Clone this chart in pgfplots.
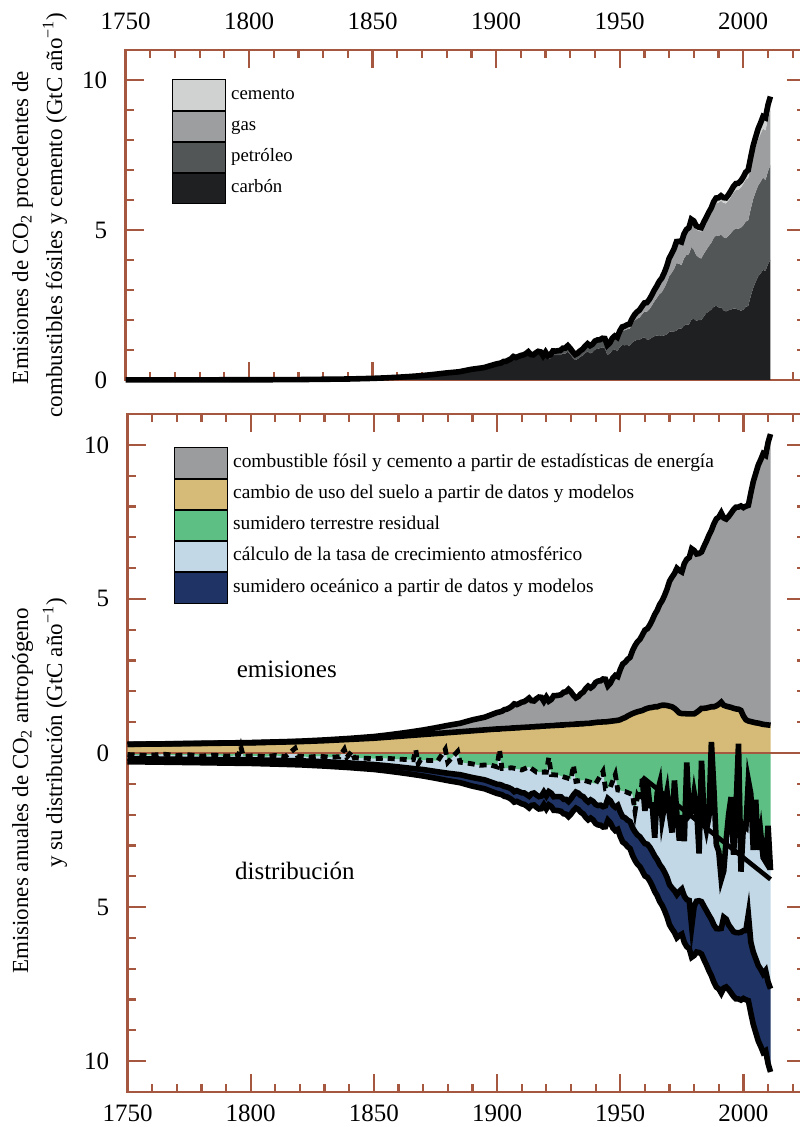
\documentclass[border=0pt]{standalone}
\usepackage{fontspec}
\setmainfont{Liberation Serif}
\usepackage{pgfplots}
\usepackage{pgfplotstable}
\pgfplotsset{compat=1.18}
\usepgfplotslibrary{fillbetween}

\definecolor{axbrown}{HTML}{A5583F}
\definecolor{cemc}{HTML}{D0D2D2}
\definecolor{gasc}{HTML}{9D9EA0}
\definecolor{oilc}{HTML}{535657}
\definecolor{coalc}{HTML}{1E2022}
\definecolor{ffc}{HTML}{9B9C9E}
\definecolor{lucc}{HTML}{D6BB78}
\definecolor{landc}{HTML}{5EBF85}
\definecolor{atmc}{HTML}{C2D8E6}
\definecolor{ocnc}{HTML}{1F3464}

% year, fossil total, oil, gas, cement, land-use change, ocean sink (GtC/yr)
\pgfplotstableread{
year ff oil gas cem luc ocn
1750 0.003 0 0 0 0.28 0.10
1760 0.003 0 0 0 0.29 0.10
1770 0.004 0 0 0 0.30 0.10
1780 0.005 0 0 0 0.31 0.11
1790 0.007 0 0 0 0.32 0.11
1800 0.008 0 0 0 0.33 0.12
1810 0.010 0 0 0 0.35 0.12
1820 0.014 0 0 0 0.37 0.13
1830 0.024 0 0 0 0.40 0.14
1840 0.033 0 0 0 0.44 0.15
1850 0.054 0 0 0 0.48 0.16
1855 0.070 0 0 0 0.51 0.17
1860 0.091 0 0 0 0.54 0.18
1865 0.116 0.001 0 0 0.57 0.19
1870 0.147 0.001 0 0 0.60 0.21
1875 0.188 0.002 0 0 0.63 0.22
1880 0.236 0.004 0.002 0 0.66 0.24
1885 0.274 0.005 0.003 0 0.69 0.26
1890 0.356 0.009 0.004 0.001 0.72 0.28
1895 0.412 0.013 0.004 0.001 0.75 0.29
1900 0.534 0.017 0.004 0.002 0.78 0.30
1901 0.552 0.019 0.004 0.002 0.78 0.31
1902 0.566 0.020 0.005 0.002 0.79 0.31
1903 0.617 0.021 0.005 0.002 0.79 0.32
1904 0.624 0.023 0.005 0.002 0.80 0.32
1905 0.663 0.025 0.006 0.003 0.80 0.33
1906 0.707 0.026 0.006 0.003 0.81 0.34
1907 0.784 0.030 0.007 0.003 0.81 0.34
1908 0.750 0.031 0.007 0.003 0.82 0.35
1909 0.785 0.033 0.008 0.003 0.82 0.35
1910 0.819 0.036 0.009 0.004 0.83 0.36
1911 0.836 0.038 0.009 0.004 0.83 0.37
1912 0.879 0.041 0.010 0.004 0.84 0.37
1913 0.943 0.045 0.010 0.004 0.84 0.38
1914 0.850 0.046 0.010 0.004 0.85 0.38
1915 0.838 0.050 0.011 0.004 0.85 0.39
1916 0.901 0.055 0.011 0.005 0.86 0.40
1917 0.955 0.060 0.012 0.005 0.86 0.40
1918 0.936 0.060 0.012 0.005 0.87 0.41
1919 0.806 0.065 0.013 0.005 0.87 0.41
1920 0.932 0.085 0.014 0.006 0.88 0.42
1921 0.803 0.085 0.015 0.006 0.88 0.43
1922 0.845 0.095 0.016 0.006 0.89 0.43
1923 0.970 0.110 0.018 0.007 0.89 0.44
1924 0.963 0.110 0.019 0.007 0.90 0.45
1925 0.975 0.120 0.020 0.008 0.90 0.46
1926 0.983 0.125 0.022 0.008 0.91 0.47
1927 1.062 0.140 0.024 0.009 0.91 0.47
1928 1.065 0.150 0.026 0.009 0.92 0.48
1929 1.145 0.165 0.030 0.010 0.92 0.49
1930 1.053 0.160 0.030 0.010 0.93 0.50
1931 0.940 0.155 0.029 0.009 0.93 0.51
1932 0.847 0.145 0.028 0.008 0.94 0.52
1933 0.893 0.155 0.029 0.009 0.94 0.53
1934 0.973 0.160 0.031 0.010 0.95 0.54
1935 1.027 0.170 0.035 0.011 0.95 0.56
1936 1.130 0.185 0.037 0.013 0.96 0.57
1937 1.209 0.200 0.040 0.014 0.96 0.58
1938 1.142 0.200 0.040 0.014 0.97 0.59
1939 1.192 0.210 0.043 0.014 0.98 0.60
1940 1.299 0.220 0.045 0.015 0.99 0.62
1941 1.334 0.235 0.047 0.015 1.00 0.63
1942 1.342 0.220 0.048 0.014 1.00 0.65
1943 1.391 0.235 0.052 0.013 1.01 0.66
1944 1.383 0.260 0.056 0.012 1.01 0.68
1945 1.160 0.255 0.060 0.010 1.02 0.70
1946 1.238 0.280 0.065 0.013 1.03 0.72
1947 1.392 0.315 0.072 0.016 1.04 0.74
1948 1.469 0.350 0.080 0.018 1.05 0.76
1949 1.419 0.360 0.088 0.018 1.06 0.78
1950 1.630 0.420 0.100 0.020 1.08 0.80
1951 1.768 0.470 0.108 0.022 1.12 0.82
1952 1.796 0.500 0.115 0.024 1.15 0.84
1953 1.841 0.530 0.122 0.026 1.20 0.86
1954 1.865 0.560 0.130 0.028 1.24 0.88
1955 2.043 0.620 0.150 0.030 1.28 0.90
1956 2.177 0.670 0.170 0.033 1.31 0.93
1957 2.270 0.710 0.190 0.036 1.34 0.95
1958 2.330 0.740 0.210 0.040 1.36 0.97
1959 2.454 0.800 0.225 0.042 1.38 1.00
1960 2.569 0.860 0.240 0.045 1.42 1.05
1961 2.580 0.920 0.258 0.048 1.45 1.07
1962 2.686 1.000 0.278 0.051 1.47 1.10
1963 2.833 1.070 0.300 0.054 1.48 1.12
1964 2.995 1.160 0.320 0.057 1.50 1.15
1965 3.130 1.250 0.340 0.060 1.50 1.17
1966 3.288 1.360 0.370 0.064 1.53 1.20
1967 3.393 1.460 0.400 0.068 1.55 1.22
1968 3.566 1.580 0.430 0.072 1.55 1.25
1969 3.780 1.720 0.465 0.076 1.54 1.28
1970 4.053 1.850 0.520 0.080 1.52 1.30
1971 4.208 1.950 0.555 0.084 1.50 1.33
1972 4.376 2.080 0.590 0.088 1.45 1.36
1973 4.614 2.250 0.625 0.092 1.38 1.40
1974 4.623 2.160 0.650 0.096 1.30 1.43
1975 4.596 2.110 0.670 0.100 1.28 1.46
1976 4.864 2.240 0.710 0.104 1.28 1.50
1977 5.016 2.310 0.740 0.108 1.27 1.53
1978 5.074 2.350 0.770 0.112 1.27 1.56
1979 5.357 2.420 0.810 0.116 1.27 1.00
1980 5.301 2.300 0.840 0.120 1.27 1.60
1981 5.138 2.180 0.860 0.122 1.32 1.65
1982 5.094 2.090 0.880 0.124 1.38 1.68
1983 5.075 2.050 0.900 0.126 1.45 1.70
1984 5.258 2.090 0.930 0.128 1.45 1.73
1985 5.417 2.100 0.960 0.130 1.46 1.76
1986 5.583 2.180 0.990 0.136 1.48 1.80
1987 5.725 2.220 1.020 0.142 1.50 1.83
1988 5.936 2.290 1.060 0.148 1.50 1.86
1989 6.066 2.350 1.090 0.154 1.53 1.90
1990 6.074 2.380 1.110 0.160 1.58 1.95
1991 6.142 2.420 1.130 0.168 1.65 2.10
1992 6.078 2.440 1.140 0.176 1.55 2.30
1993 6.070 2.440 1.160 0.184 1.52 2.20
1994 6.174 2.480 1.180 0.192 1.50 2.10
1995 6.305 2.550 1.210 0.200 1.48 2.10
1996 6.448 2.610 1.250 0.206 1.45 2.10
1997 6.547 2.680 1.280 0.212 1.43 2.15
1998 6.561 2.700 1.300 0.218 1.42 2.15
1999 6.637 2.760 1.340 0.224 1.38 2.20
2000 6.765 2.820 1.380 0.230 1.20 2.20
2001 6.927 2.840 1.400 0.245 1.08 2.25
2002 6.996 2.850 1.420 0.260 1.04 2.80
2003 7.416 2.900 1.450 0.280 1.02 2.30
2004 7.807 2.970 1.480 0.300 1.00 2.35
2005 8.093 3.000 1.510 0.320 0.98 2.40
2006 8.370 3.030 1.550 0.345 0.97 2.45
2007 8.566 3.060 1.590 0.370 0.95 2.50
2008 8.783 3.080 1.640 0.395 0.93 2.55
2009 8.740 3.020 1.660 0.420 0.92 2.60
2010 9.167 3.100 1.760 0.450 0.91 2.65
2011 9.449 3.150 1.820 0.470 0.90 2.70
}\fftab

% residual land sink (GtC/yr)
\pgfplotstableread{
year land
1750 0.05
1758 0.08
1765 0.04
1770 0.08
1775 0.06
1780 0.10
1785 0.07
1790 0.10
1795 0.08
1796 -0.20
1797 0.10
1802 0.09
1806 0.12
1810 0.08
1814 0.12
1818 -0.15
1819 0.10
1824 0.13
1828 0.10
1832 0.14
1836 0.12
1838 -0.12
1839 0.14
1841 -0.05
1842 0.15
1846 0.17
1850 0.18
1855 0.17
1860 0.20
1866 0.22
1867 -0.10
1868 0.35
1869 0.22
1872 0.24
1876 0.25
1879 -0.12
1880 0.30
1884 -0.05
1885 0.30
1889 0.34
1893 0.40
1897 0.38
1900 0.45
1901 -0.10
1902 0.50
1906 0.48
1910 0.55
1913 0.45
1916 0.62
1920 0.62
1921 0.15
1922 0.70
1925 0.72
1928 0.80
1930 0.85
1931 0.40
1932 0.92
1935 0.88
1938 0.95
1940 1.00
1943 0.60
1944 1.15
1946 1.10
1948 0.70
1949 1.20
1952 1.25
1955 1.35
1956 1.90
1957 1.40
1958 1.55
1959 0.83
1960 1.88
1961 0.96
1962 1.70
1963 1.69
1964 2.75
1965 1.30
1966 0.99
1967 2.15
1968 1.69
1969 1.26
1970 2.02
1971 2.58
1972 0.89
1973 2.00
1974 2.84
1975 2.02
1976 2.86
1977 0.31
1978 2.02
1979 1.92
1980 1.30
1981 1.78
1982 3.26
1983 0.25
1984 2.08
1985 2.49
1986 2.06
1987 -0.36
1988 1.15
1989 2.97
1990 3.20
1991 4.10
1992 3.83
1993 2.82
1994 1.99
1995 1.43
1996 3.30
1997 1.78
1998 -0.30
1999 3.85
2000 2.34
2001 2.41
2002 0.90
2003 1.33
2004 3.15
2005 1.52
2006 3.14
2007 2.59
2008 3.39
2009 3.52
2010 2.36
2011 3.80
}\landtab

\pgfplotsset{
  myaxis/.style={
    scale only axis, xmin=1750, xmax=2025, clip=false,
    axis line style={draw=axbrown, line width=1.25pt},
    tick style={draw=axbrown, line width=1.1pt},
    major tick length=9pt, minor tick length=4pt, tick align=inside,
    xtick={1750,1800,1850,1900,1950,2000},
    xticklabels={1750,1800,1850,1900,1950,2000},
    minor xtick={1760,1770,1780,1790,1810,1820,1830,1840,1860,1870,1880,1890,1910,1920,1930,1940,1960,1970,1980,1990,2010,2020},
    ticklabel style={font=\fontsize{12.5}{14}\selectfont, inner sep=0pt},
    yticklabel shift=9pt,
    legend image code/.code={\fill[##1] (0pt,-5.5pt) rectangle (26.5pt,9.7pt);},
    legend style={draw=none, fill=none, inner sep=0pt, row sep=0pt, column sep=2.5pt,
      font=\fontsize{9.4}{11}\selectfont, nodes={inner sep=0pt, anchor=base west}},
  },
}

\begin{document}
\begin{tikzpicture}
% ---------------- top panel ----------------
\begin{axis}[myaxis,
  at={(62.75pt,-190pt)}, anchor=south west,
  width=339.75pt, height=165pt,
  ymin=0, ymax=11,
  ytick={0,5,10}, yticklabels={0,5,10},
  minor ytick={1,2,3,4,6,7,8,9},
  xticklabel pos=upper, xticklabel shift=10pt,
  legend style={at={(0.0684,0.912)}, anchor=north west},
]
\addplot[draw=none, name path=z, forget plot] coordinates {(1750,0) (2011,0)};
\addplot[draw=none, name path=b1, forget plot] table[x=year, y expr=\thisrow{ff}-\thisrow{oil}-\thisrow{gas}-\thisrow{cem}]{\fftab};
\addplot[draw=none, name path=b2, forget plot] table[x=year, y expr=\thisrow{ff}-\thisrow{gas}-\thisrow{cem}]{\fftab};
\addplot[draw=none, name path=b3, forget plot] table[x=year, y expr=\thisrow{ff}-\thisrow{cem}]{\fftab};
\addplot[draw=none, name path=b4, forget plot] table[x=year, y=ff]{\fftab};
\addplot[fill=coalc, draw=none, forget plot] fill between[of=z and b1];
\addplot[fill=oilc, draw=none, forget plot] fill between[of=b1 and b2];
\addplot[fill=gasc, draw=none, forget plot] fill between[of=b2 and b3];
\addplot[fill=cemc, draw=none, forget plot] fill between[of=b3 and b4];
\addplot[black, line width=2.8pt, forget plot] table[x=year, y=ff]{\fftab};
\addlegendimage{fill=cemc}\addlegendentry{cemento}
\addlegendimage{fill=gasc}\addlegendentry{gas}
\addlegendimage{fill=oilc}\addlegendentry{petróleo}
\addlegendimage{fill=coalc}\addlegendentry{carbón}
\end{axis}

% ---------------- bottom panel ----------------
\begin{axis}[myaxis,
  at={(63.75pt,-546pt)}, anchor=south west,
  width=338.75pt, height=339pt,
  ymin=-11, ymax=11,
  ytick={-10,-5,0,5,10}, yticklabels={10,5,0,5,10},
  minor ytick={-9,-8,-7,-6,-4,-3,-2,-1,1,2,3,4,6,7,8,9},
  xticklabel shift=6pt,
  legend style={at={(0.0686,0.9513)}, anchor=north west, font=\fontsize{9.7}{11}\selectfont},
]
\addplot[draw=none, name path=z, forget plot] coordinates {(1750,0) (2011,0)};
\addplot[draw=none, name path=luc, forget plot] table[x=year, y=luc]{\fftab};
\addplot[draw=none, name path=tot, forget plot] table[x=year, y expr=\thisrow{ff}+\thisrow{luc}]{\fftab};
\addplot[draw=none, name path=ot, forget plot] table[x=year, y expr=-\thisrow{ff}-\thisrow{luc}+\thisrow{ocn}]{\fftab};
\addplot[draw=none, name path=bot, forget plot] table[x=year, y expr=-\thisrow{ff}-\thisrow{luc}]{\fftab};
\addplot[draw=none, name path=gb, forget plot] table[x=year, y expr=-\thisrow{land}]{\landtab};
\addplot[fill=ocnc, draw=none, forget plot] fill between[of=bot and ot];
\addplot[fill=atmc, draw=none, forget plot] fill between[of=ot and gb];
\addplot[fill=landc, draw=none, forget plot] fill between[of=gb and z];
\addplot[fill=lucc, draw=none, forget plot] fill between[of=z and luc];
\addplot[fill=ffc, draw=none, forget plot] fill between[of=luc and tot];
\addplot[axbrown, line width=1.25pt, forget plot] coordinates {(1750,0) (2025,0)};
\addplot[black, line width=2.8pt, forget plot] table[x=year, y expr=\thisrow{ff}+\thisrow{luc}]{\fftab};
\addplot[black, line width=2.8pt, forget plot] table[x=year, y=luc]{\fftab};
\addplot[black, line width=2.8pt, forget plot] table[x=year, y expr=-\thisrow{ff}-\thisrow{luc}+\thisrow{ocn}]{\fftab};
\addplot[black, line width=2.8pt, forget plot] table[x=year, y expr=-\thisrow{ff}-\thisrow{luc}]{\fftab};
\addplot[black, line width=2.4pt, dash pattern=on 3.5pt off 2.5pt, restrict x to domain=1750:1959, forget plot] table[x=year, y expr=-\thisrow{land}]{\landtab};
\addplot[black, line width=2.8pt, restrict x to domain=1959:2011, forget plot] table[x=year, y expr=-\thisrow{land}]{\landtab};
\addplot[black, line width=2.3pt, forget plot] coordinates {(1959,-0.78) (2011,-4.1)};
\node[anchor=base west, font=\fontsize{12.5}{15}\selectfont] at (axis cs:1791.5,2.44) {emisiones};
\node[anchor=base west, font=\fontsize{12.5}{15}\selectfont] at (axis cs:1790.8,-4.1) {distribución};
\addlegendimage{fill=ffc}\addlegendentry{combustible fósil y cemento a partir de estadísticas de energía}
\addlegendimage{fill=lucc}\addlegendentry{cambio de uso del suelo a partir de datos y modelos}
\addlegendimage{fill=landc}\addlegendentry{sumidero terrestre residual}
\addlegendimage{fill=atmc}\addlegendentry{cálculo de la tasa de crecimiento atmosférico}
\addlegendimage{fill=ocnc}\addlegendentry{sumidero oceánico a partir de datos y modelos}
\end{axis}

% y axis labels
\node[rotate=90, anchor=base, font=\fontsize{11.5}{14}\selectfont] at (14pt,-113.75pt) {Emisiones de CO\textsubscript{2} procedentes de};
\node[rotate=90, anchor=base, font=\fontsize{11.5}{14}\selectfont] at (31pt,-107.5pt) {combustibles fósiles y cemento (GtC año\textsuperscript{−1})};
\node[rotate=90, anchor=base, font=\fontsize{11.5}{14}\selectfont] at (14pt,-395.5pt) {Emisiones anuales de CO\textsubscript{2} antropógeno};
\node[rotate=90, anchor=base, font=\fontsize{11.5}{14}\selectfont] at (31pt,-366.5pt) {y su distribución (GtC año\textsuperscript{−1})};

\pgfresetboundingbox
\path[use as bounding box] (0pt,0pt) rectangle (399.5pt,-563.5pt);
\end{tikzpicture}
\end{document}
